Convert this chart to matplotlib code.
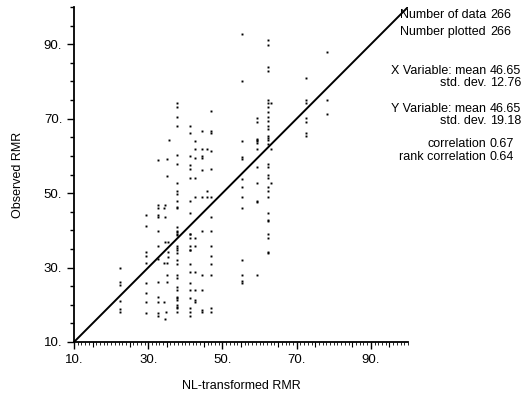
import matplotlib
matplotlib.use('Agg')
import matplotlib.pyplot as plt
from matplotlib.ticker import MultipleLocator, FixedLocator

plt.rcParams['font.family'] = ['Liberation Sans', 'DejaVu Sans']

# NL-transformed RMR (x) and observed RMR (y)
nl_rmr = ([22.4] * 6 + [29.5] * 9 + [32.7] * 13 +
          [35.7, 35.1, 35.1, 34.6, 34.3, 34.6, 34.6, 35.4, 35.4, 35.4, 34.3, 35.1, 35.1, 35.1, 34.3, 34.9, 34.6] +
          [37.8] * 34 + [41.2] * 22 + [42.7] * 11 + [44.4] * 11 + [45.9] * 3 + [47.0] * 14 +
          [55.4] * 13 + [59.2] * 12 + [62.2] * 30 + [63.2] * 3 + [72.6] * 7 + [78.1] * 3)
obs_rmr = ([29.9, 26.1, 25.3, 21.0, 18.9, 18.1] +
           [44.1, 41.2, 34.2, 33.1, 31.2, 25.9, 23.2, 20.8, 17.8] +
           [58.9, 46.8, 46.0, 44.0, 43.6, 39.8, 35.8, 32.3, 26.1, 22.1, 20.8, 17.8, 17.0] +
           [64.3, 59.2, 54.6, 46.8, 46.0, 43.6, 36.9, 36.9, 34.2, 32.8, 31.2, 31.2, 28.0, 26.1, 20.8, 18.1, 16.2] +
           [74.2, 73.2, 70.5, 68.0, 60.3, 57.8, 52.7, 50.6, 49.8, 47.9, 46.3, 46.0, 40.9, 39.8, 39.6, 39.0,
            38.8, 35.8, 35.3, 34.7, 33.9, 32.0, 31.0, 28.0, 27.2, 24.8, 24.0, 22.1, 21.8, 21.3, 20.0, 19.4,
            19.1, 18.1] +
           [68.0, 66.2, 60.0, 57.6, 56.5, 54.0, 47.9, 44.7, 39.0, 39.0, 38.0, 35.8, 34.7, 34.7, 31.0, 28.8,
            25.9, 24.0, 21.8, 19.1, 18.1, 17.0] +
           [64.0, 61.9, 59.5, 54.0, 49.0, 38.0, 35.8, 28.8, 24.0, 21.3, 20.8] +
           [66.7, 61.9, 60.0, 59.5, 56.2, 49.0, 39.8, 28.0, 24.0, 18.1, 18.5] +
           [61.9, 50.6, 49.0] +
           [72.1, 66.7, 66.2, 61.3, 56.5, 49.0, 43.6, 39.8, 35.8, 33.1, 31.0, 28.0, 19.1, 18.1] +
           [92.8, 80.2, 64.0, 59.7, 59.2, 53.8, 51.7, 49.0, 46.0, 32.0, 28.0, 26.4, 25.9] +
           [70.2, 69.1, 64.6, 64.3, 64.0, 63.5, 61.9, 57.0, 52.7, 47.9, 47.6, 28.0] +
           [91.2, 89.8, 83.9, 82.8, 75.0, 74.2, 73.2, 71.8, 70.5, 69.4, 68.0, 67.3, 65.4, 64.8, 64.3, 63.2,
            57.8, 57.0, 54.9, 54.0, 51.7, 50.6, 49.0, 44.7, 42.8, 42.5, 39.0, 38.0, 34.2, 33.9] +
           [74.2, 61.9, 52.7] +
           [81.0, 75.0, 74.2, 70.2, 69.1, 66.2, 65.4] +
           [88.0, 75.0, 71.3])

stat_labels = ['Number of data', 'Number plotted', 'X Variable: mean', 'std. dev.',
               'Y Variable: mean', 'std. dev.', 'correlation', 'rank correlation']
stat_values = ['266', '266', '46.65', '12.76', '46.65', '19.18', '0.67', '0.64']
stat_rows_y = [15, 32, 71, 83, 109, 121, 144, 157]  # pixel rows from the top

ticks = [10, 30, 50, 70, 90]
tick_labels = ['10.', '30.', '50.', '70.', '90.']

fig = plt.figure(figsize=(5.28, 3.99), dpi=100)
ax = fig.add_axes([74 / 528, 57 / 399, 334 / 528, 335 / 399])

ax.plot(nl_rmr, obs_rmr, 's', color='black', markersize=1.4, markeredgewidth=0)
ax.plot([10, 100], [10, 100], color='black', linewidth=1.4)

ax.set_xlim(10, 100)
ax.set_ylim(10, 100)
for s in ['top', 'right']:
    ax.spines[s].set_visible(False)
for s in ['left', 'bottom']:
    ax.spines[s].set_linewidth(1.3)

ax.set_xticks(ticks)
ax.set_xticklabels(tick_labels)
ax.set_yticks(ticks)
ax.set_yticklabels(tick_labels)
ax.xaxis.set_minor_locator(MultipleLocator(1))
ax.yaxis.set_minor_locator(MultipleLocator(5))
ax.tick_params(axis='both', which='major', length=5, width=1, labelsize=9.5, direction='out')
ax.tick_params(axis='x', which='minor', length=2, width=0.6)
ax.tick_params(axis='y', which='minor', length=3, width=1)

# medium ticks every 5 units on x
sec = ax.secondary_xaxis('bottom')
sec.xaxis.set_major_locator(FixedLocator(list(range(15, 100, 10))))
sec.tick_params(length=3.5, width=0.8, labelbottom=False)
sec.spines['bottom'].set_visible(False)

ax.set_xlabel('NL-transformed RMR', fontsize=9, labelpad=10)
ax.set_ylabel('Observed RMR', fontsize=9, labelpad=14)

for lab, val, py in zip(stat_labels, stat_values, stat_rows_y):
    fy = 1 - py / 399
    fig.text(486 / 528, fy, lab, ha='right', va='center', fontsize=9)
    fig.text(490 / 528, fy, val, ha='left', va='center', fontsize=9)

fig.savefig('out.png', dpi=100)
